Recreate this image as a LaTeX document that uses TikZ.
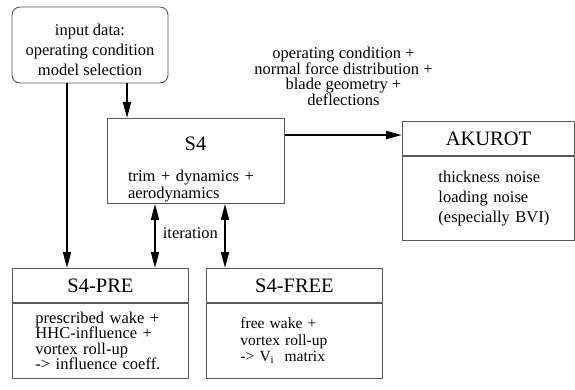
\documentclass[tikz,border=0pt]{standalone}
\usepackage{fontspec}
\setmainfont{Liberation Serif}
\usetikzlibrary{positioning,arrows.meta}

\begin{document}
\begin{tikzpicture}[
    x=1pt, y=-1pt,
    node distance=0pt,
    cls/.style={draw=black!65, line width=0.9pt, inner sep=3pt, font=\fontsize{16.5}{20}\selectfont},
    inbox/.style={cls, rounded corners=8pt, minimum width=156pt, minimum height=76pt},
    mainbox/.style={cls, minimum width=177pt, minimum height=85pt},
    sechead/.style={cls, minimum height=34pt, font=\fontsize{20.5}{24}\selectfont},
    secbody/.style={cls, align=left},
    plaintxt/.style={inner sep=0pt, align=left, font=\fontsize{16.5}{17}\selectfont},
    arr/.style={-{Triangle[length=16pt,width=8pt]}, line width=1.8pt},
    darr/.style={{Triangle[length=16pt,width=8pt]}-{Triangle[length=16pt,width=8pt]}, line width=1.8pt},
    lbl/.style={inner sep=0pt, align=center, font=\fontsize{16.5}{15}\selectfont},
  ]
  \useasboundingbox (0,0) rectangle (575,390);

  \node[inbox] (input) at (90,45) {};
  \node[plaintxt, align=center, font=\fontsize{16.5}{20}\selectfont] (inputtext) at (90,50) {input data:\\operating condition\\model selection};

  \node[mainbox, anchor=north west] (s4) at (107,118) {};
  \node[plaintxt, font=\fontsize{20.5}{24}\selectfont] (s4title) at (195.5,144) {S4};
  \node[plaintxt, text width=135pt] (s4text) at (195.5,186) {trim + dynamics +\\aerodynamics};

  \node[sechead, minimum width=172pt, anchor=north west] (akurot) at (402,121) {AKUROT};
  \node[secbody, minimum width=172pt, minimum height=84pt, text width=100pt, below=of akurot] (akurotbody) {thickness~noise\\loading~noise\\(especially~BVI)};

  \node[sechead, minimum width=176pt, anchor=north west] (pre) at (12,268) {S4-PRE};
  \node[secbody, minimum width=176pt, minimum height=75pt, text width=130pt, below=of pre, font=\fontsize{16.5}{15.5}\selectfont] (prebody) {prescribed wake +\\HHC-influence +\\vortex roll-up\\-> influence coeff.};

  \node[sechead, minimum width=176pt, anchor=north west] (free) at (206,268) {S4-FREE};
  \node[secbody, minimum width=176pt, minimum height=75pt, text width=108pt, below=of free, font=\fontsize{15.5}{16.5}\selectfont] (freebody) {free wake +\\vortex roll-up\\-> V$_\mathrm{i}$ \ matrix};

  \coordinate (in2s4) at ([xshift=20pt]s4.north west);
  \coordinate (in2pre) at ([xshift=55pt]pre.north west);
  \coordinate (iterl) at ([xshift=48pt]s4.south west);
  \coordinate (iterr) at ([xshift=118pt]s4.south west);

  \draw[arr] (in2s4 |- input.south) -- (in2s4);
  \draw[arr] (in2pre |- input.south) -- (in2pre);

  \draw[arr] ([yshift=-17pt]s4.north east) -- node[midway, above=28pt, lbl] {operating condition +\\normal force distribution +\\blade geometry +\\deflections} ([yshift=-14pt]akurot.north west);

  \draw[darr] (iterl) -- node[midway, right=7pt, lbl, yshift=3pt] {iteration} (iterl |- pre.north);
  \draw[darr] (iterr) -- (iterr |- free.north);

\end{tikzpicture}
\end{document}
